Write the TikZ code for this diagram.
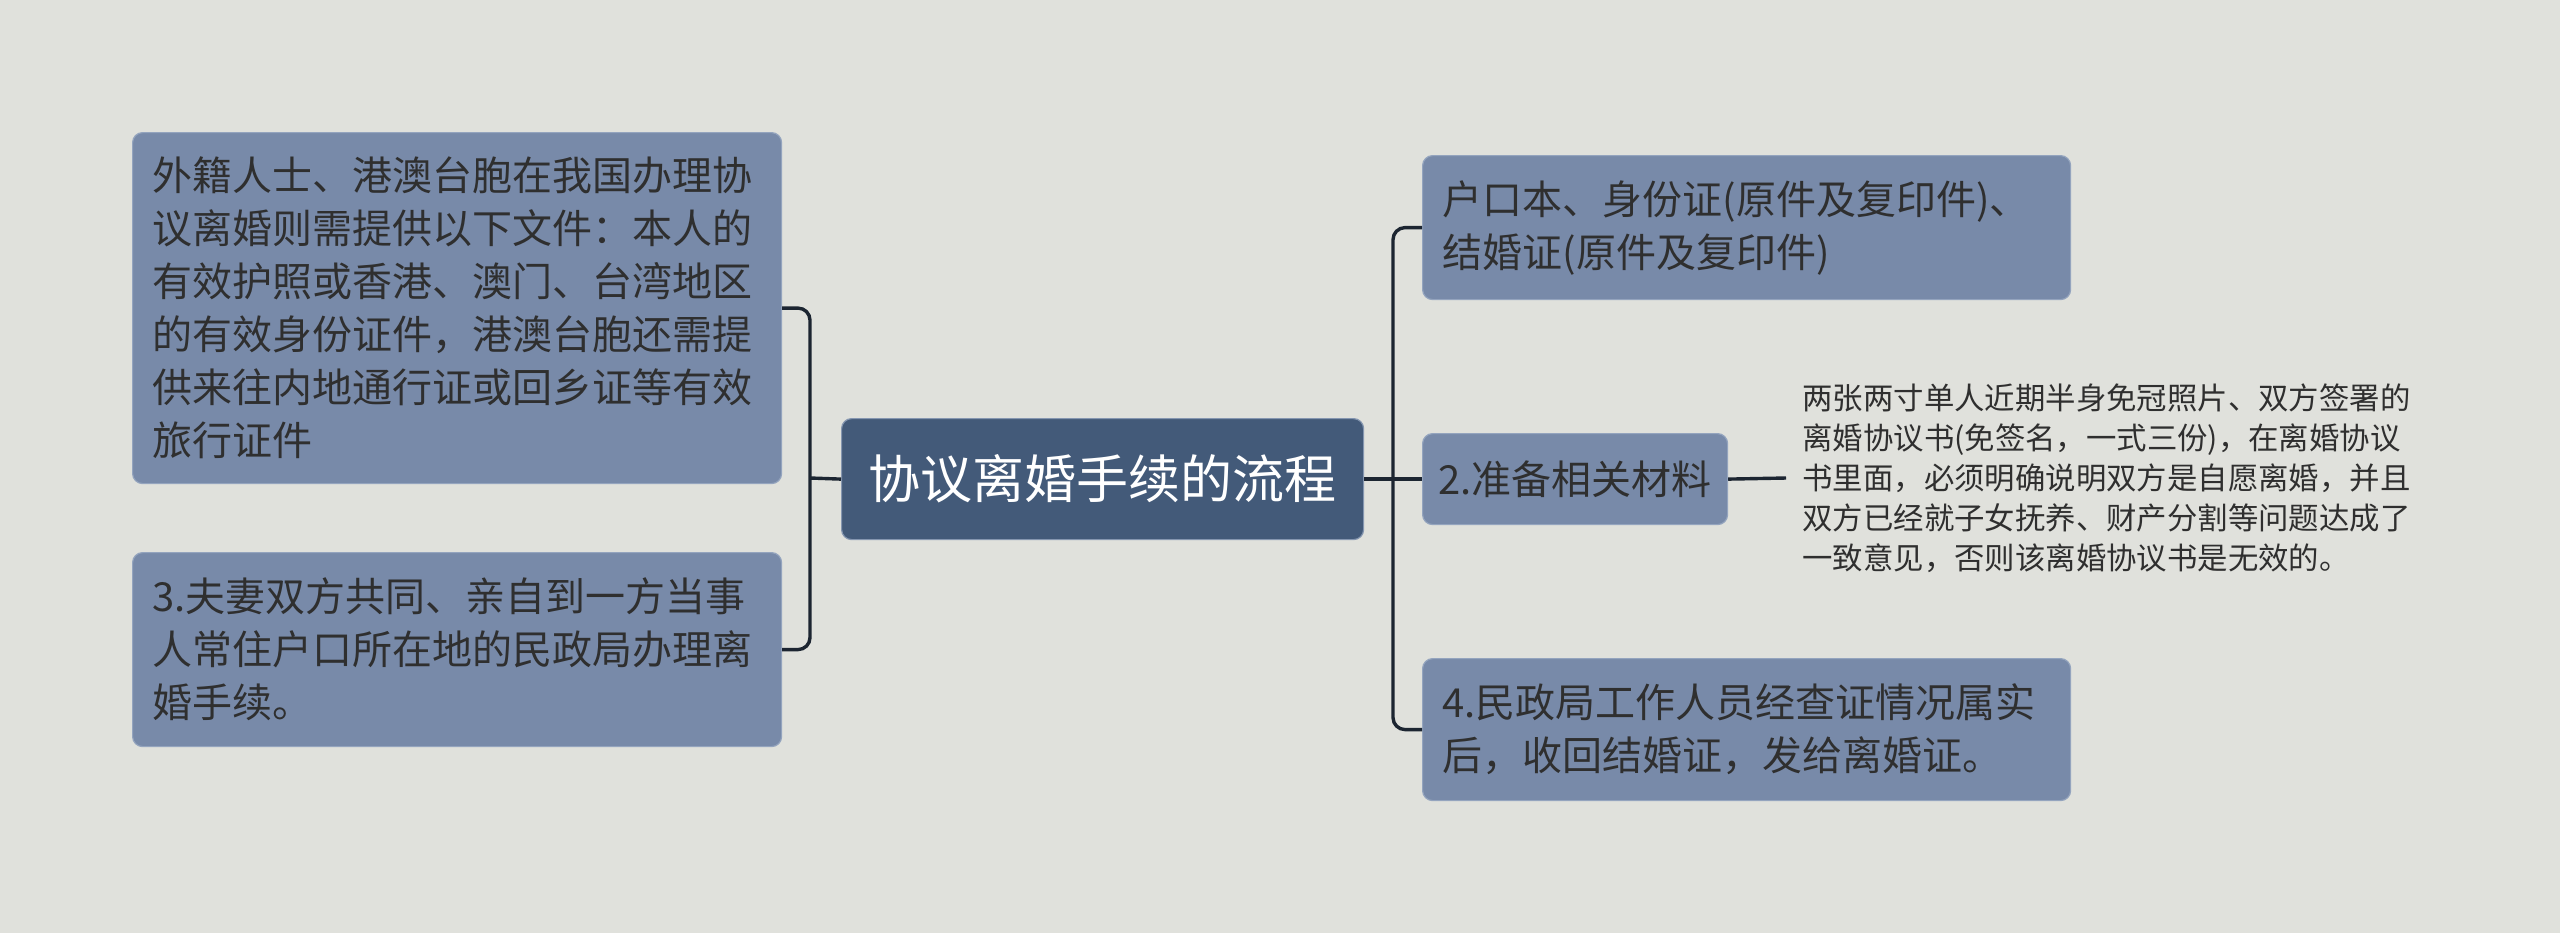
\documentclass[tikz,border=0pt]{standalone}
\usepackage{fontspec}
\setmainfont{Noto Sans CJK SC}
\definecolor{bg}{HTML}{E0E1DC}
\definecolor{boxfill}{HTML}{788AA9}
\definecolor{boxline}{HTML}{94A4BE}
\definecolor{mainfill}{HTML}{435A79}
\definecolor{mainline}{HTML}{8596B0}
\definecolor{conncol}{HTML}{1C2531}
\definecolor{txt}{HTML}{2F2F2F}
\begin{document}
\begin{tikzpicture}[x=0.5pt,y=-0.5pt,
  subbox/.style={draw=boxline, line width=0.6pt, fill=boxfill, rounded corners=5pt,
    text=txt, align=left, inner xsep=10pt, inner ysep=0pt, anchor=north west,
    font=\fontsize{20}{26.5}\selectfont},
  mainbox/.style={draw=mainline, line width=0.6pt, fill=mainfill, rounded corners=5pt,
    text=white, align=center, inner sep=0pt, anchor=north west,
    minimum width=261pt, minimum height=60.5pt, font=\fontsize{26}{30}\selectfont},
  notetext/.style={text=txt, align=left, inner xsep=8pt, inner ysep=0pt, anchor=west,
    font=\fontsize{15.2}{20}\selectfont},
  conn/.style={draw=conncol, line width=1.7pt, rounded corners=6pt}]
\useasboundingbox[fill=bg] (0,0) rectangle (2560,933);

\node[mainbox] (center) at (841,418) {协议离婚手续的流程};

\node[subbox, text width=304.5pt, minimum height=175.5pt] (b1) at (132,132)
  {外籍人士、港澳台胞在我国办理协\\议离婚则需提供以下文件：本人的\\有效护照或香港、澳门、台湾地区\\的有效身份证件，港澳台胞还需提\\供来往内地通行证或回乡证等有效\\旅行证件};
\node[subbox, text width=304.5pt, minimum height=97pt] (b2) at (132,552)
  {3.夫妻双方共同、亲自到一方当事\\人常住户口所在地的民政局办理离\\婚手续。};

\node[subbox, text width=304pt, minimum height=72pt] (r1) at (1422,155)
  {户口本、身份证(原件及复印件)、\\结婚证(原件及复印件)};
\node[subbox, align=center, inner xsep=0pt, minimum width=152.5pt, minimum height=45.5pt] (r2) at (1422,433)
  {2.准备相关材料};
\node[subbox, text width=304pt, minimum height=71pt] (r3) at (1422,658)
  {4.民政局工作人员经查证情况属实\\后，收回结婚证，发给离婚证。};

\node[notetext] (note) at (1786,478)
  {两张两寸单人近期半身免冠照片、双方签署的\\离婚协议书(免签名，一式三份)，在离婚协议\\书里面，必须明确说明双方是自愿离婚，并且\\双方已经就子女抚养、财产分割等问题达成了\\一致意见，否则该离婚协议书是无效的。};

\coordinate (lj) at (810,478);
\coordinate (rj) at (1393,478);

\draw[conn] (b1.east) -| (lj) |- (b2.east);
\draw[conn] (center.west) -- (lj);
\draw[conn] (r1.west) -| (rj) |- (r3.west);
\draw[conn] (center.east) -- (r2.west);
\draw[conn] (r2.east) -- (note.west);
\end{tikzpicture}
\end{document}
